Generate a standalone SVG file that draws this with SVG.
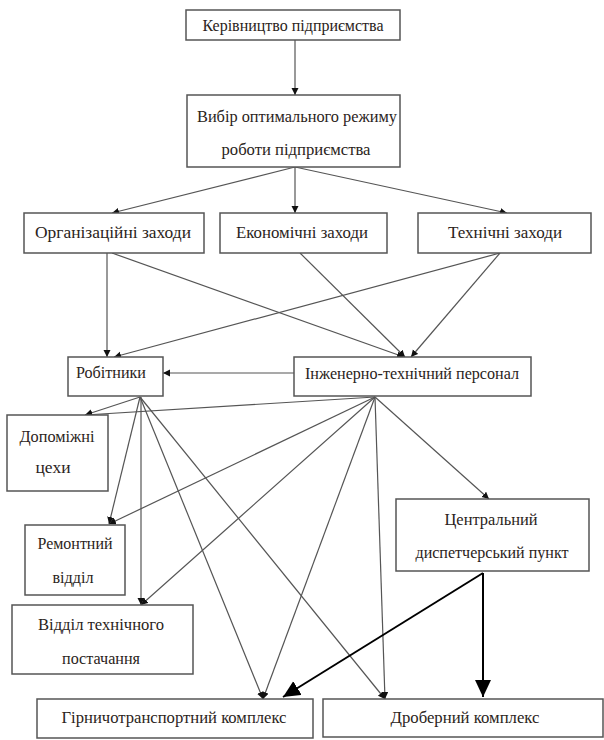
<svg xmlns="http://www.w3.org/2000/svg" width="604" height="740" viewBox="0 0 604 740" font-family="Liberation Serif, DejaVu Serif, serif">
<style>
.box{fill:#fff;stroke:#555;stroke-width:1.5}
.t{font-size:16px;fill:#2a2320;text-anchor:middle}
.ln{stroke:#555;stroke-width:1.2;fill:none;marker-end:url(#sm)}
.big{stroke:#000;stroke-width:2;fill:none;marker-end:url(#bg)}
</style>
<defs>
<marker id="sm" markerUnits="userSpaceOnUse" markerWidth="8" markerHeight="8" refX="7" refY="3.5" orient="auto">
<path d="M0,0 L7,3.5 L0,7 z" fill="#111"/>
</marker>
<marker id="bg" markerUnits="userSpaceOnUse" markerWidth="20" markerHeight="20" refX="17" refY="8" orient="auto">
<path d="M0,0 L17,8 L0,16 z" fill="#000"/>
</marker>
</defs>
<rect width="604" height="740" fill="#fff"/>
<g id="connectors">
<line class="ln" x1="295" y1="40" x2="295" y2="95"/>
<line class="ln" x1="295" y1="167" x2="112" y2="213"/>
<line class="ln" x1="295" y1="167" x2="295" y2="213"/>
<line class="ln" x1="295" y1="167" x2="507" y2="213"/>
<line class="ln" x1="107" y1="253" x2="107" y2="357"/>
<line class="ln" x1="112" y1="253" x2="404" y2="357"/>
<line class="ln" x1="300" y1="253" x2="405" y2="357"/>
<line class="ln" x1="500" y1="253" x2="114" y2="357"/>
<line class="ln" x1="500" y1="253" x2="411" y2="357"/>
<line class="ln" x1="294" y1="373" x2="163" y2="373"/>
<line class="ln" x1="140" y1="397" x2="85" y2="415"/>
<line class="ln" x1="140" y1="397" x2="109" y2="524"/>
<line class="ln" x1="141" y1="397" x2="141" y2="605"/>
<line class="ln" x1="140" y1="397" x2="263" y2="699"/>
<line class="ln" x1="140" y1="397" x2="385" y2="699"/>
<line class="ln" x1="375" y1="397" x2="85" y2="415"/>
<line class="ln" x1="375" y1="397" x2="109" y2="524"/>
<line class="ln" x1="375" y1="397" x2="141" y2="605"/>
<line class="ln" x1="375" y1="397" x2="263" y2="699"/>
<line class="ln" x1="375" y1="397" x2="385" y2="699"/>
<line class="ln" x1="375" y1="397" x2="489" y2="499"/>
<line class="big" x1="483" y1="573" x2="283" y2="697"/>
<line class="big" x1="483" y1="573" x2="483" y2="697"/>
</g>
<g id="n1"><rect class="box" x="186" y="10" width="214" height="30"/><text class="t" x="293" y="31" textLength="181" lengthAdjust="spacingAndGlyphs">Керівництво підприємства</text></g>
<g id="n2"><rect class="box" x="187" y="95" width="213" height="72"/><text class="t" x="297" y="122" textLength="200" lengthAdjust="spacingAndGlyphs">Вибір оптимального режиму</text><text class="t" x="296" y="155" textLength="149" lengthAdjust="spacingAndGlyphs">роботи підприємства</text></g>
<g id="n3"><rect class="box" x="24" y="213" width="180" height="40"/><text class="t" x="113" y="238" textLength="156" lengthAdjust="spacingAndGlyphs">Організаційні заходи</text></g>
<g id="n4"><rect class="box" x="220" y="213" width="167" height="40"/><text class="t" x="302" y="238" textLength="132" lengthAdjust="spacingAndGlyphs">Економічні заходи</text></g>
<g id="n5"><rect class="box" x="418" y="213" width="173" height="40"/><text class="t" x="505" y="238" textLength="114" lengthAdjust="spacingAndGlyphs">Технічні заходи</text></g>
<g id="n6"><rect class="box" x="68" y="357" width="95" height="39"/><text class="t" x="111" y="378" textLength="70" lengthAdjust="spacingAndGlyphs">Робітники</text></g>
<g id="n7"><rect class="box" x="294" y="357" width="237" height="39"/><text class="t" x="412" y="379" textLength="214" lengthAdjust="spacingAndGlyphs">Інженерно-технічний персонал</text></g>
<g id="n8"><rect class="box" x="7" y="415" width="101" height="76"/><text class="t" x="57" y="442" textLength="75" lengthAdjust="spacingAndGlyphs">Допоміжні</text><text class="t" x="53" y="473" textLength="35" lengthAdjust="spacingAndGlyphs">цехи</text></g>
<g id="n9"><rect class="box" x="25" y="525" width="100" height="70"/><text class="t" x="75" y="549" textLength="75" lengthAdjust="spacingAndGlyphs">Ремонтний</text><text class="t" x="73" y="583" textLength="41" lengthAdjust="spacingAndGlyphs">відділ</text></g>
<g id="n10"><rect class="box" x="12" y="605" width="181" height="69"/><text class="t" x="101" y="630" textLength="126" lengthAdjust="spacingAndGlyphs">Відділ технічного</text><text class="t" x="101" y="664" textLength="78" lengthAdjust="spacingAndGlyphs">постачання</text></g>
<g id="n11"><rect class="box" x="396" y="499" width="193" height="72"/><text class="t" x="491" y="525" textLength="93" lengthAdjust="spacingAndGlyphs">Центральний</text><text class="t" x="492" y="558" textLength="153" lengthAdjust="spacingAndGlyphs">диспетчерський пункт</text></g>
<g id="n12"><rect class="box" x="37" y="699" width="276" height="39"/><text class="t" x="174" y="723" textLength="225" lengthAdjust="spacingAndGlyphs">Гірничотранспортний комплекс</text></g>
<g id="n13"><rect class="box" x="323" y="699" width="280" height="38"/><text class="t" x="465" y="723" textLength="149" lengthAdjust="spacingAndGlyphs">Дроберний комплекс</text></g>
</svg>
